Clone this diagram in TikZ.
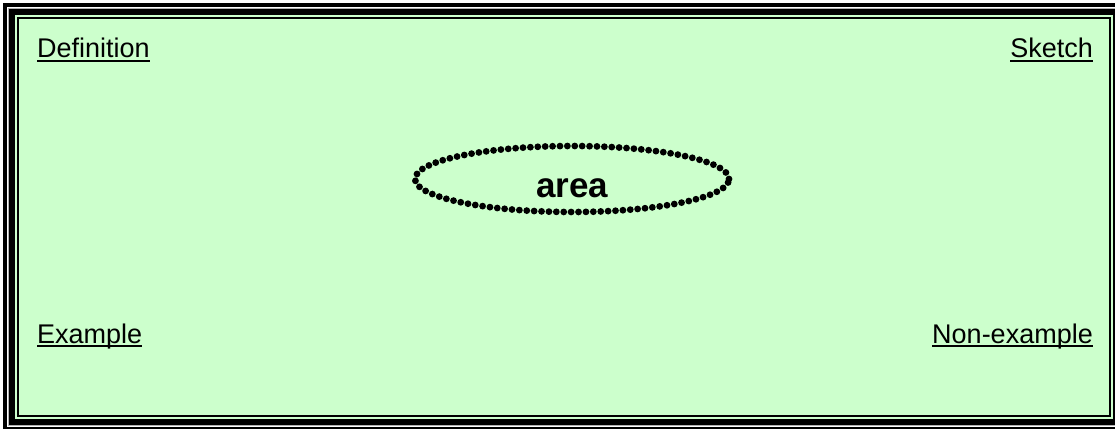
\documentclass[tikz,border=0pt]{standalone}
\usepackage{fontspec}
\setmainfont{Liberation Sans}
\usetikzlibrary{shapes.geometric}
\definecolor{cardgreen}{HTML}{CCFFCC}
\newcommand{\ulword}[1]{\setbox0\hbox{#1}\rlap{\raisebox{-4.3pt}{\rule{\wd0}{1.9pt}}}\box0}

\begin{document}
\begin{tikzpicture}[x=1pt, y=-1pt,
    cornertext/.style={inner sep=0, font=\fontsize{27}{32}\selectfont},
    dotring/.style={ellipse, draw=black, line width=6.8pt, line cap=round, dash pattern=on 0pt off 7.4pt, inner sep=0, minimum width=314pt, minimum height=66pt, text height=36pt, text depth=0pt, font=\bfseries\fontsize{35}{40}\selectfont}]
    \useasboundingbox (0,0) rectangle (1115,428);
    \clip (0,0) rectangle (1115,428);

    % Frame (thick-thin border, cut off at right and bottom)
    \fill[white] (0,0) rectangle (1115,428);
    \fill[black] (3,3) rectangle (1125,431);
    \fill[white] (7,7) rectangle (1121,427);
    \fill[gray!60] (8,8) rectangle (1120,426);
    \fill[black] (9,9) rectangle (1119,425);
    \fill[cardgreen] (15,15) rectangle (1113,419);
    \fill[black] (17,17) rectangle (1111,417);
    \fill[cardgreen] (19,19) rectangle (1109,415);

    % Corner headings
    \node[cornertext, anchor=base west] (definition) at (37,58) {\ulword{Definition}};
    \node[cornertext, anchor=base east] (sketch) at (1093,58) {\ulword{Sketch}};
    \node[cornertext, anchor=base west] (example) at (37,343) {\ulword{Example}};
    \node[cornertext, anchor=base east] (nonexample) at (1093,343) {\ulword{Non-example}};

    % Centre word
    \node[dotring] (area) at (572,179) {area};
\end{tikzpicture}
\end{document}
